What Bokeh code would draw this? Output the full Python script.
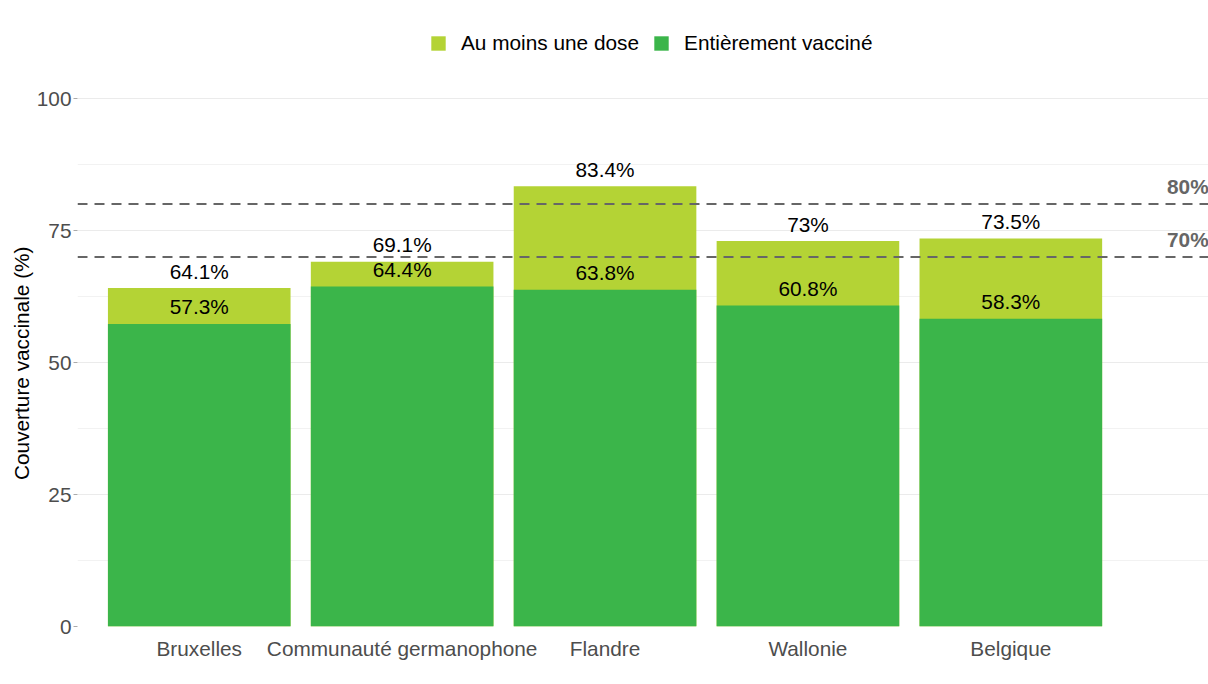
from bokeh.plotting import figure
from bokeh.models import (Range1d, FixedTicker, Span, Legend, LegendItem,
                          ColumnDataSource, Label, Title)
from bokeh.core.properties import value
from bokeh.embed import file_html
from bokeh.resources import INLINE

# ---------------- data ----------------
regions = ["Bruxelles", "Communauté germanophone", "Flandre", "Wallonie", "Belgique"]
au_moins_une_dose = [64.1, 69.1, 83.4, 73.0, 73.5]
entierement_vaccine = [57.3, 64.4, 63.8, 60.8, 58.3]
thresholds = [80, 70]
threshold_labels = ["80%", "70%"]
y_ticks = [0, 25, 50, 75, 100]
y_minor_ticks = [12.5, 37.5, 62.5, 87.5]
y_title = "Couverture vaccinale (%)"

LIGHT = "#B4D335"
DARK = "#3BB54A"
FONT = "Liberation Sans"
FS = "20.8px"

xpos = list(range(1, len(regions) + 1))
fmt = lambda v: f"{v:g}%"

src = ColumnDataSource(dict(
    x=xpos,
    dose=au_moins_une_dose,
    full=entierement_vaccine,
    dose_lbl=[fmt(v) for v in au_moins_une_dose],
    full_lbl=[fmt(v) for v in entierement_vaccine],
))

# layout constants (pixels)
W, H = 1208, 684
LEFT = 77
BOTTOM = 58
PX_PER_CAT = 202.9
PX_PER_PCT = 5.28
frame_h = H - BOTTOM
x_end = 0.4 + (W - LEFT) / PX_PER_CAT
y_end = frame_h / PX_PER_PCT
Y_TITLE_LEN = 235          # approx. rendered length of the y title, px

p = figure(width=W, height=H, output_backend="svg", toolbar_location=None,
           x_range=Range1d(0.4, x_end), y_range=Range1d(0, y_end),
           min_border_left=LEFT, min_border_right=0, min_border_top=0,
           min_border_bottom=BOTTOM)
p.outline_line_color = None
p.background_fill_color = "white"
p.border_fill_color = "white"

r_dose = p.vbar(x="x", top="dose", bottom=0, width=0.9, source=src,
                fill_color=LIGHT, line_color=None)
r_full = p.vbar(x="x", top="full", bottom=0, width=0.9, source=src,
                fill_color=DARK, line_color=None)

for col in ("dose", "full"):
    p.text(x="x", y=col, text=col + "_lbl", source=src,
           text_align="center", text_baseline="alphabetic", y_offset=-17,
           text_font=value(FONT), text_font_size=FS, text_color="black")

# threshold lines
label_x = 0.4 + (1166.5 - LEFT) / PX_PER_CAT
for t, lbl in zip(thresholds, threshold_labels):
    p.add_layout(Span(location=t, dimension="width", line_color="#666666",
                      line_width=2, line_dash="10 7"))
    p.add_layout(Label(x=label_x, y=t, text=lbl, text_align="left",
                       text_baseline="alphabetic", y_offset=17.5,
                       text_font=FONT, text_font_size=FS,
                       text_font_style="bold", text_color="#666666"))

# axes
p.xaxis.ticker = FixedTicker(ticks=xpos)
p.xaxis.major_label_overrides = {x: r for x, r in zip(xpos, regions)}
p.xaxis.major_label_text_font = FONT
p.xaxis.major_label_text_font_size = FS
p.xaxis.major_label_text_color = "#4D4D4D"
p.xaxis.major_label_standoff = 4
p.xaxis.major_tick_line_color = None
p.xaxis.minor_tick_line_color = None
p.xaxis.axis_line_color = None

p.yaxis.ticker = FixedTicker(ticks=y_ticks, minor_ticks=y_minor_ticks)
p.yaxis.major_label_text_font = FONT
p.yaxis.major_label_text_font_size = FS
p.yaxis.major_label_text_color = "#4D4D4D"
p.yaxis.major_label_standoff = 2
p.yaxis.major_tick_in = 0
p.yaxis.major_tick_out = 4
p.yaxis.major_tick_line_color = "#AAAAAA"
p.yaxis.minor_tick_line_color = None
p.yaxis.axis_line_color = None

# y-axis title, centred on the 0..100 span rather than on the whole frame
title_offset = 100 * PX_PER_PCT / 2 - Y_TITLE_LEN / 2
p.add_layout(Title(text=y_title, align="left", offset=title_offset,
                   text_font=FONT, text_font_size=FS, text_font_style="normal",
                   text_color="black", standoff=2), "left")

p.xgrid.grid_line_color = None
p.ygrid.grid_line_color = "#EBEBEB"
p.ygrid.grid_line_width = 1
p.ygrid.minor_grid_line_color = "#F2F2F2"
p.ygrid.minor_grid_line_width = 1

legend = Legend(items=[LegendItem(label="Au moins une dose", renderers=[r_dose]),
                       LegendItem(label="Entièrement vacciné", renderers=[r_full])],
                orientation="horizontal",
                location=(429 - LEFT, frame_h - 43 - 12),
                glyph_width=18, glyph_height=18, label_standoff=14, spacing=13,
                padding=0, margin=0, border_line_color=None,
                background_fill_alpha=0,
                label_text_font=FONT, label_text_font_size=FS,
                label_text_color="black")
p.add_layout(legend)

open("out.html", "w").write(file_html(p, INLINE))
